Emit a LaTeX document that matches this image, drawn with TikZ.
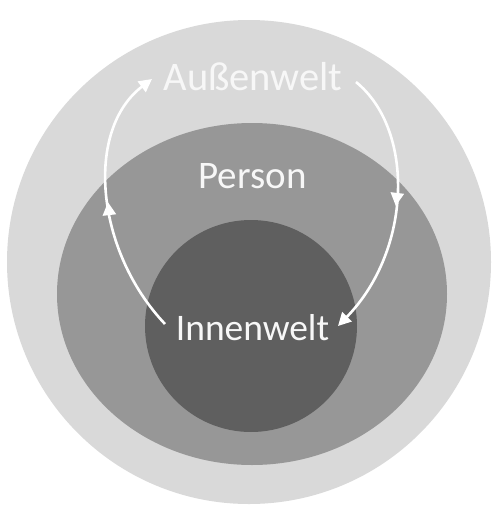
\documentclass[tikz,border=0pt]{standalone}
\usepackage{fontspec}
\setmainfont{Carlito}
\usetikzlibrary{arrows.meta,decorations.markings}
\definecolor{outerc}{HTML}{D9D9D9}
\definecolor{midc}{HTML}{979797}
\definecolor{innerc}{HTML}{5F5F5F}
\definecolor{txtc}{HTML}{F7F7F7}
\tikzset{
  lbl/.style={text=txtc, anchor=base, inner sep=0pt},
  flow/.style={draw=white, line width=2.6pt, -{Triangle[length=13pt,width=13pt]},
    postaction={decorate},
    decoration={markings, mark=at position 0.5 with {\arrow{Triangle[length=13pt,width=13pt]}}}}
}
\begin{document}
\begin{tikzpicture}[x=1pt,y=-1pt]
\useasboundingbox (0,0) rectangle (492,509);
\fill[white] (0,0) rectangle (492,509);
\fill[outerc] (249,262) circle [radius=242];
\fill[midc] (252,294) ellipse [x radius=195, y radius=171];
\fill[innerc] (251,326) circle [radius=106];
\node[lbl, font=\fontsize{40.5}{42}\selectfont] (aus) at (253,90) {Außenwelt};
\node[lbl, font=\fontsize{39}{41}\selectfont] (per) at (252.5,188) {Person};
\node[lbl, font=\fontsize{37.5}{40}\selectfont] (inn) at (252.5,340) {Innenwelt};
\coordinate (l0) at (165,324);
\coordinate (l1) at (152,79);
\coordinate (r0) at (356,82);
\coordinate (r1) at (338,326);
\draw[flow] (l0) .. controls (95,250) and (85,130) .. (l1);
\draw[flow] (r0) .. controls (415,130) and (412,250) .. (r1);
\end{tikzpicture}
\end{document}
